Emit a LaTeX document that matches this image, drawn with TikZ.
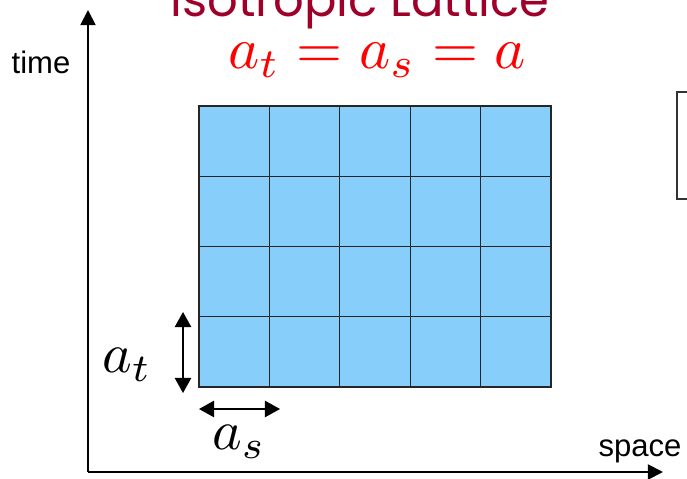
\documentclass[tikz,border=0pt]{standalone}
\usepackage{amsmath}
\usepackage{fontspec}
\setsansfont{Liberation Sans}
\newfontfamily\titlefont{Poppins}
\usepackage{tikz}
\usetikzlibrary{arrows.meta}
\usepackage{xcolor}
\definecolor{cellblue}{RGB}{135,206,250}
\definecolor{titlered}{RGB}{158,0,42}

\tikzset{
    axis/.style={line width=1.6pt, -{Triangle[length=13pt, width=13pt]}},
    spacing/.style={line width=1.6pt, {Triangle[length=13pt, width=14pt]}-{Triangle[length=13pt, width=14pt]}},
    axislabel/.style={font=\sffamily\fontsize{26.5}{30}\selectfont},
    biglabel/.style={scale=4.8}
}

\begin{document}
\begin{tikzpicture}[x=0.03cm, y=-0.03cm]
    \useasboundingbox (0,0) rectangle (687,479);
    \clip (0,0) rectangle (687,479);
    % axes
    \coordinate (origin) at (88,472);
    \coordinate (ttop) at (88,10);
    \coordinate (send) at (663,472);
    \draw[axis] (origin) -- (ttop);
    \draw[axis] (origin) -- (send);
    \node[axislabel] (time) at (41,62) {time};
    \node[axislabel] (space) at (640,451) {space};
    % lattice
    \fill[cellblue] (199,106) rectangle (551,387);
    \draw[line width=0.9pt, black!85] (199,106) rectangle (551,387);
    \foreach \i in {1,...,4}
        \draw[line width=0.9pt, black!85] ({199+70.4*\i},106) -- ({199+70.4*\i},387);
    \foreach \j in {1,...,3}
        \draw[line width=0.9pt, black!85] (199,{106+70.25*\j}) -- (551,{106+70.25*\j});
    % spacings
    \coordinate (ttopa) at (183,312);
    \coordinate (tbot) at (183,393);
    \coordinate (sleft) at (199,409);
    \coordinate (sright) at (280,409);
    \draw[spacing] (ttopa) -- (tbot);
    \draw[spacing] (sleft) -- (sright);
    \node[biglabel] (at) at (127,365) {$a_t$};
    \node[biglabel] (as) at (239,442) {$a_s$};
    % title
    \node[font=\titlefont\fontsize{41}{44}\selectfont, text=titlered, anchor=base] (title) at (360,17) {Isotropic Lattice};
    \node[scale=5.05, text=red] (eq) at (377,60) {$a_t = a_s = a$};
    % box at the right edge
    \draw[line width=1.3pt, black!80] (677,92) rectangle (710,199);
\end{tikzpicture}
\end{document}
